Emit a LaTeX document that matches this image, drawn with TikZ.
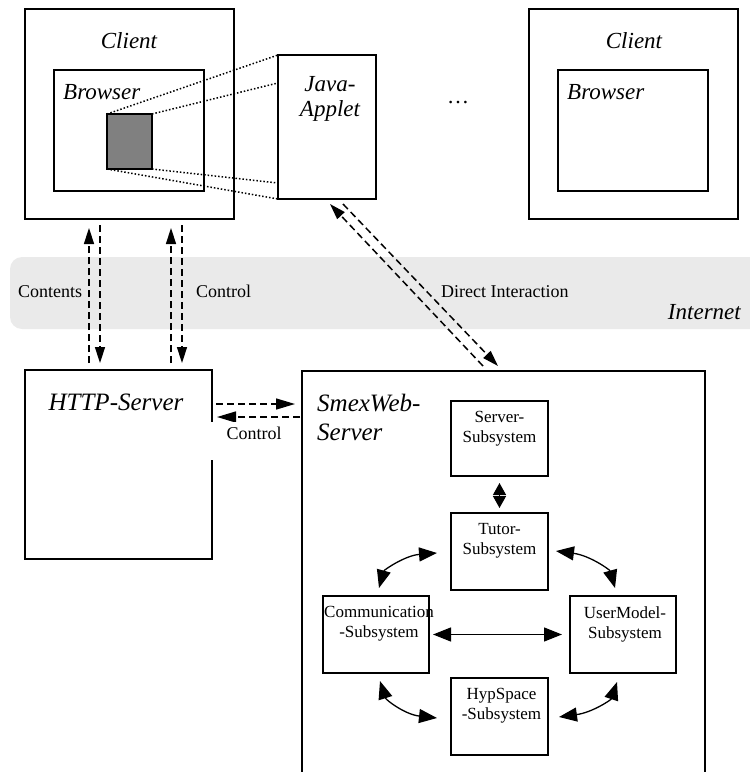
\documentclass[tikz,border=0pt]{standalone}
\usepackage{fontspec}
\setmainfont{Liberation Serif}
\usetikzlibrary{arrows.meta,calc}
\definecolor{bandgray}{RGB}{234,234,234}
\definecolor{applgray}{RGB}{128,128,128}
\tikzset{
  box/.style={draw, line width=1.8pt, inner sep=0pt, outer sep=0pt},
  hd/.style={font=\fontsize{23}{25}\selectfont\itshape, inner sep=0pt},
  bighd/.style={font=\fontsize{25}{29}\selectfont\itshape, inner sep=0pt, align=left},
  lbl/.style={font=\fontsize{18}{20}\selectfont, inner sep=0pt},
  sub/.style={font=\fontsize{17}{20}\selectfont, inner sep=0pt, align=center},
  vdash/.style={line width=1.5pt, dash pattern=on 7pt off 4pt},
  dotl/.style={line width=1.5pt, dotted},
  bigT/.tip={Triangle[length=16pt,width=10pt]},
  bigH/.tip={Triangle[length=19pt,width=11pt]},
  bigC/.tip={Triangle[length=18pt,width=14pt]},
  bigS/.tip={Triangle[length=12pt,width=13pt]},
  carr/.style={line width=1.3pt, {bigC}-{bigC}},
}
\begin{document}
\begin{tikzpicture}[x=1pt,y=-1pt]
\useasboundingbox (0,0) rectangle (750,772);
% Internet band
\fill[bandgray, rounded corners=12pt] (10,257) rectangle (770,329);

% Clients
\node[box, minimum width=209pt, minimum height=210pt] (client1) at (129.5,114) {};
\node[box, minimum width=150pt, minimum height=121pt] (browser1) at (129,130.5) {};
\node[box, fill=applgray, minimum width=45pt, minimum height=55pt] (applet) at (129.5,141.5) {};
\node[box, minimum width=98pt, minimum height=144pt] (java) at (327,127) {};
\node[box, minimum width=209pt, minimum height=210pt] (client2) at (633.5,114) {};
\node[box, minimum width=150pt, minimum height=121pt] (browser2) at (633,130.5) {};

\node[hd, anchor=base] (tclient1) at (129,48) {Client};
\node[hd, anchor=base west] (tbrowser1) at (63,99) {Browser};
\node[hd, anchor=north, align=center, font=\fontsize{23}{25}\selectfont\itshape] (tjava) at (330,76) {Java-\\Applet};
\node[hd, anchor=base] (tclient2) at (634,48) {Client};
\node[hd, anchor=base west] (tbrowser2) at (567,99) {Browser};
\node[font=\fontsize{22}{24}\selectfont, inner sep=0pt] (dots) at (458,103) {\dots};

% dotted projection
\draw[dotl] (applet.north west) -- (java.north west);
\draw[dotl] (applet.north east) -- ($(java.north west)!0.194!(java.south west)$);
\draw[dotl] (applet.south east) -- ($(java.north west)!0.889!(java.south west)$);
\draw[dotl] (applet.south west) -- (java.south west);

% HTTP server
\node[box, minimum width=187pt, minimum height=189pt] (http) at (118.5,464.5) {};
\node[hd, anchor=base, font=\fontsize{25}{29}\selectfont\itshape] (thttp) at (116,410) {HTTP-Server};

% SmexWeb server (open at the bottom)
\node[box, minimum width=403pt, minimum height=450pt] (smex) at (503.5,596) {};
\node[bighd, anchor=north west] (tsmex) at (317,394) {SmexWeb-\\Server};

% subsystems
\node[box, minimum width=97pt, minimum height=75pt] (server) at (499.5,438.5) {};
\node[box, minimum width=97pt, minimum height=77pt] (tutor) at (499.5,551.5) {};
\node[box, minimum width=106pt, minimum height=77pt] (comm) at (376,634.5) {};
\node[box, minimum width=106pt, minimum height=77pt] (user) at (623,634.5) {};
\node[box, minimum width=97pt, minimum height=77pt] (hyp) at (499.5,716.5) {};

\node[sub] (tserver) at ($(server.north)+(0,28)$) {Server-\\Subsystem};
\node[sub] (ttutor) at ($(tutor.north)+(0,28)$) {Tutor-\\Subsystem};
\node[sub] (tcomm) at ($(comm.north)+(3,28)$) {Communication\\-Subsystem};
\node[sub] (tuser) at ($(user.north)+(2,28)$) {UserModel-\\Subsystem};
\node[sub] (thyp) at ($(hyp.north)+(2,28)$) {HypSpace\\-Subsystem};

% connectors inside SmexWeb
\draw[line width=1.3pt, {bigS}-{bigS}, shorten <=7pt, shorten >=5pt] (server.south) -- (tutor.north);
\draw[line width=1.3pt, {bigC}-{bigC}, shorten <=4pt, shorten >=8pt] (comm.east) -- (user.west);
\draw[carr] ($(comm.north)+(3,-8)$) .. controls ($(comm.north)+(8,-26)$) and ($(tutor.west)+(-46,4)$) .. ($(tutor.west)+(-14,1.5)$);
\draw[carr] ($(user.north)+(-8,-8)$) .. controls ($(user.north)+(-13,-26)$) and ($(tutor.east)+(42,4)$) .. ($(tutor.east)+(8,-0.5)$);
\draw[carr] ($(comm.south)+(4,8)$) .. controls ($(comm.south)+(10,27)$) and ($(hyp.west)+(-46,-2)$) .. ($(hyp.west)+(-14,1.5)$);
\draw[carr] ($(user.south)+(-6,9)$) .. controls ($(user.south)+(-12,27)$) and ($(hyp.east)+(44,-4)$) .. ($(hyp.east)+(11,0.5)$);

% Contents / Control arrows
\coordinate (xa) at (89,0);
\coordinate (xb) at (100,0);
\coordinate (xc) at (171,0);
\coordinate (xd) at (182,0);
\draw[vdash, -{bigT}, shorten <=7pt, shorten >=9pt] (http.north -| xa) -- (client1.south -| xa);
\draw[vdash, -{bigT}, shorten <=6pt, shorten >=7pt] (client1.south -| xb) -- (http.north -| xb);
\draw[vdash, -{bigT}, shorten <=7pt, shorten >=9pt] (http.north -| xc) -- (client1.south -| xc);
\draw[vdash, -{bigT}, shorten <=6pt, shorten >=7pt] (client1.south -| xd) -- (http.north -| xd);

% Direct interaction
\draw[vdash, -{bigT}] ($(smex.north)+(-20.5,-5)$) -- ($(java.south)+(3,5)$);
\draw[vdash, -{bigT}] ($(java.south)+(16,5)$) -- ($(smex.north)+(-5.5,-5)$);

% HTTP <-> SmexWeb control
\coordinate (ya) at (0,404);
\coordinate (yb) at (0,417);
\draw[vdash, -{bigH}, shorten <=4pt, shorten >=7pt] (http.east |- ya) -- (smex.west |- ya);
\draw[vdash, -{bigH}, shorten <=2pt, shorten >=5pt] (smex.west |- yb) -- (http.east |- yb);
\node[fill=white, inner sep=0pt, anchor=north west, minimum width=80pt, minimum height=38pt] (ctlpatch) at (211,422) {};
\node[lbl, anchor=base] (tcontrol2) at (254,439) {Control};

% band labels
\node[lbl, anchor=base west] (tcontents) at (18,297) {Contents};
\node[lbl, anchor=base west] (tcontrol1) at (196,297) {Control};
\node[lbl, anchor=base west] (tdirect) at (441,297) {Direct Interaction};
\node[hd, anchor=base east, font=\fontsize{23}{25}\selectfont\itshape] (tinternet) at (741,319) {Internet};
\end{tikzpicture}
\end{document}
